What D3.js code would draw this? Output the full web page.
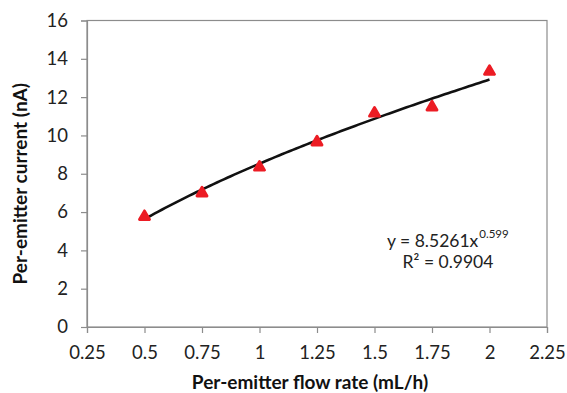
<!DOCTYPE html>
<html><head><meta charset="utf-8">
<script src="https://cdn.jsdelivr.net/npm/d3@7/dist/d3.min.js"></script>
<style>body{margin:0;background:#fff}svg{display:block}text{font-family:Lato,"Open Sans",sans-serif}</style>
</head><body>
<svg id="c" width="567" height="393"></svg>
<script>
const flowRates = [0.5, 0.75, 1.0, 1.25, 1.5, 1.75, 2.0];
const currents = [5.76, 6.99, 8.34, 9.65, 11.16, 11.48, 13.34];
const xTicks = [0.25, 0.5, 0.75, 1, 1.25, 1.5, 1.75, 2, 2.25];
const yTicks = [0, 2, 4, 6, 8, 10, 12, 14, 16];
const fitCoef = [8.5261, 0.599]; // y = a x^b
const fitRange = [0.5, 2.0];
const eqLines = ["y = 8.5261x", "0.599", "R² = 0.9904"];

const svg = d3.select("#c");
const m = {l: 87, r: 547, t: 20.5, b: 327};
const x = d3.scaleLinear().domain([0.25, 2.25]).range([m.l, m.r]);
const y = d3.scaleLinear().domain([0, 16]).range([m.b, m.t]);
const axisColor = "#8c8c8c";
const font = "Lato, 'Open Sans', sans-serif";

svg.append("rect").attr("x", m.l).attr("y", m.t).attr("width", m.r - m.l).attr("height", m.b - m.t)
  .attr("fill", "none").attr("stroke", axisColor).attr("stroke-width", 1.2);

const xAxis = svg.append("g").attr("transform", `translate(0,${m.b})`)
  .call(d3.axisBottom(x).tickValues(xTicks).tickSize(6).tickPadding(13).tickFormat(d => String(d)));
const yAxis = svg.append("g").attr("transform", `translate(${m.l},0)`)
  .call(d3.axisLeft(y).tickValues(yTicks).tickSize(6).tickPadding(13).tickFormat(d => String(d)));
[xAxis, yAxis].forEach(g => {
  g.select(".domain").attr("stroke", axisColor).attr("stroke-width", 1.2);
  g.selectAll(".tick line").attr("stroke", axisColor).attr("stroke-width", 1.2);
  g.selectAll(".tick text").attr("fill", "#222").style("font-size", "18.5px").style("font-family", font);
});

svg.append("text").attr("x", 310).attr("y", 389).attr("text-anchor", "middle")
  .style("font-size", "19px").style("font-weight", "bold").attr("fill", "#111")
  .text("Per-emitter flow rate (mL/h)");
svg.append("text").attr("transform", `translate(27,${(m.t + m.b) / 2 + 10}) rotate(-90)`).attr("text-anchor", "middle")
  .style("font-size", "19px").style("font-weight", "bold").attr("fill", "#111")
  .text("Per-emitter current (nA)");

const fx = d3.range(0, 101).map(i => fitRange[0] + (fitRange[1] - fitRange[0]) * i / 100);
svg.append("path").datum(fx)
  .attr("d", d3.line().x(d => x(d)).y(d => y(fitCoef[0] * Math.pow(d, fitCoef[1]))))
  .attr("fill", "none").attr("stroke", "#111").attr("stroke-width", 2.6);

const tri = d3.symbol().type(d3.symbolTriangle).size(44);
svg.selectAll("path.pt").data(flowRates).join("path").attr("class", "pt")
  .attr("transform", (d, i) => `translate(${x(d)},${y(currents[i])})`)
  .attr("d", tri()).attr("fill", "#ec1c24").attr("stroke", "#ec1c24")
  .attr("stroke-width", 2.8).attr("stroke-linejoin", "round");

// equation
const eqMain = svg.append("text").attr("x", 387).attr("y", 247)
  .style("font-size", "17.5px").attr("fill", "#222").text(eqLines[0]);
const w = eqMain.node().getComputedTextLength();
svg.append("text").attr("x", 387 + w + 1).attr("y", 238)
  .style("font-size", "11.5px").attr("fill", "#222").text(eqLines[1]);
svg.append("text").attr("x", 448).attr("y", 268).attr("text-anchor", "middle")
  .style("font-size", "17.5px").attr("fill", "#222").text(eqLines[2]);
</script>
</body></html>
